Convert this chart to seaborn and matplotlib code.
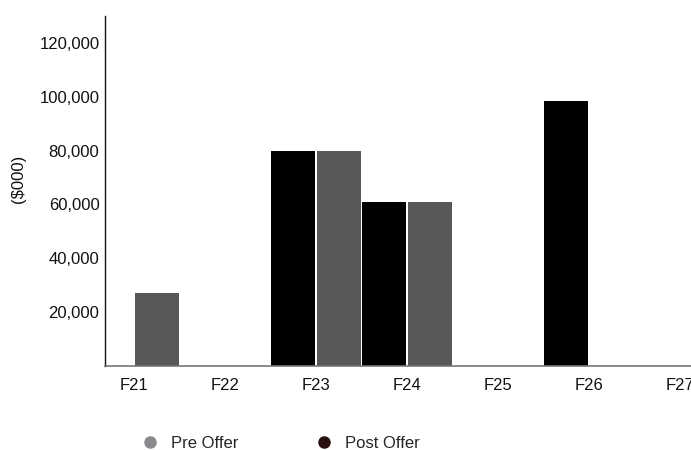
import numpy as np
import pandas as pd
import matplotlib
matplotlib.use("Agg")
import matplotlib.pyplot as plt
from matplotlib.lines import Line2D
import seaborn as sns

# dados
years = ["F21", "F22", "F23", "F24", "F25", "F26", "F27"]
pre_offer = [27000, np.nan, 80000, 61000, np.nan, np.nan, np.nan]
post_offer = [np.nan, np.nan, 80000, 61000, np.nan, 98500, np.nan]
y_ticks = [20000, 40000, 60000, 80000, 100000, 120000]

df = pd.DataFrame({
    "year": years * 2,
    "value": pre_offer + post_offer,
    "series": ["Pre Offer"] * len(years) + ["Post Offer"] * len(years),
})

sns.set_style("white")
plt.rcParams["font.family"] = ["Liberation Sans", "DejaVu Sans"]

fig = plt.figure(figsize=(6.91, 4.5), dpi=100)
ax = fig.add_axes([105 / 691, 84 / 450, 586 / 691, 350 / 450])

sns.barplot(
    data=df,
    x="year",
    y="value",
    hue="series",
    order=years,
    hue_order=["Post Offer", "Pre Offer"],
    palette={"Post Offer": "#000000", "Pre Offer": "#58585a"},
    width=1.0,
    gap=0.035,
    linewidth=0,
    saturation=1,
    legend=False,
    ax=ax,
)

ax.set_xlim(-0.32, 6.12)
ax.set_ylim(0, 130000)
ax.set_yticks(y_ticks)
ax.set_yticklabels([f"{v:,}" for v in y_ticks])
ax.tick_params(axis="both", length=0, labelsize=12, colors="#111111")
ax.tick_params(axis="x", pad=9)
ax.tick_params(axis="y", pad=4)
ax.set_xlabel("")
ax.set_ylabel("($000)", fontsize=12, color="#111111")
ax.yaxis.set_label_coords(-0.134, 0.535)

for side in ["top", "right"]:
    ax.spines[side].set_visible(False)
ax.spines["left"].set_color("#111111")
ax.spines["left"].set_linewidth(1.0)
ax.spines["bottom"].set_color("#777777")
ax.spines["bottom"].set_linewidth(1.2)

handles = [
    Line2D([], [], marker="o", linestyle="", markersize=8,
           markerfacecolor="#8a8a8e", markeredgecolor="#8a8a8e", label="Pre Offer"),
    Line2D([], [], marker="o", linestyle="", markersize=8,
           markerfacecolor="#2a0f0f", markeredgecolor="#2a0f0f", label="Post Offer"),
]
fig.legend(
    handles=handles,
    loc="center left",
    bbox_to_anchor=(133 / 691, 1 - 443 / 450),
    ncol=2,
    frameon=False,
    fontsize=12,
    handletextpad=0.3,
    columnspacing=4.1,
    borderaxespad=0,
    borderpad=0,
)

fig.savefig("out.png", dpi=100)
